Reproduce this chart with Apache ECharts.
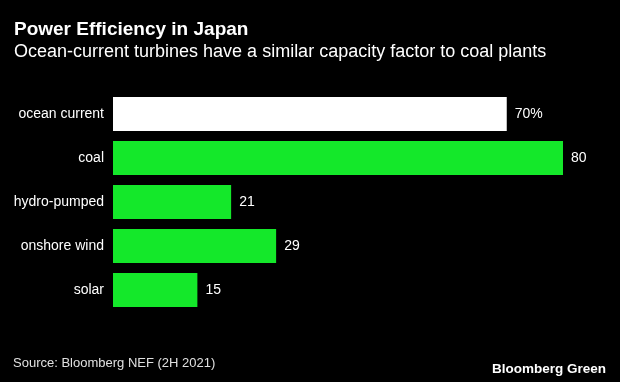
<!DOCTYPE html>
<html>
<head>
<meta charset="utf-8">
<script src="https://cdn.jsdelivr.net/npm/echarts@6/dist/echarts.min.js"></script>
<style>
html,body{margin:0;padding:0;background:#000;}
#chart{width:620px;height:382px;}
</style>
</head>
<body>
<div id="chart"></div>
<script>
var categories = ['ocean current', 'coal', 'hydro-pumped', 'onshore wind', 'solar'];
var values = [70, 80, 21, 29, 15];
var valueLabels = ['70%', '80', '21', '29', '15'];
var barColors = ['#ffffff', '#14e82a', '#14e82a', '#14e82a', '#14e82a'];

var FONT = '"Liberation Sans", Arial, sans-serif';
var chart = echarts.init(document.getElementById('chart'), null, {renderer: 'canvas'});
chart.setOption({
  backgroundColor: '#000',
  animation: false,
  title: [
    {text: 'Power Efficiency in Japan', left: 14, top: 20, padding: 0,
     textStyle: {color: '#fff', fontFamily: FONT, fontWeight: 'bold', fontSize: 19}},
    {text: 'Ocean-current turbines have a similar capacity factor to coal plants', left: 14, top: 43, padding: 0,
     textStyle: {color: '#fff', fontFamily: FONT, fontWeight: 'normal', fontSize: 18}},
    {text: 'Source: Bloomberg NEF (2H 2021)', left: 13, top: 357, padding: 0,
     textStyle: {color: '#e0e0e0', fontFamily: FONT, fontWeight: 'normal', fontSize: 13}},
    {text: 'Bloomberg Green', right: 14, top: 362, padding: 0,
     textStyle: {color: '#fff', fontFamily: FONT, fontWeight: 'bold', fontSize: 13.5}}
  ],
  grid: {left: 113, right: 57, top: 92, bottom: 70, containLabel: false},
  xAxis: {
    type: 'value', min: 0, max: 80, show: false
  },
  yAxis: {
    type: 'category', data: categories, inverse: true,
    axisLine: {show: false}, axisTick: {show: false}, splitLine: {show: false},
    axisLabel: {color: '#fff', fontFamily: FONT, fontSize: 14, margin: 9}
  },
  series: [{
    type: 'bar',
    barWidth: 34,
    data: values.map(function (v, i) {
      return {value: v, itemStyle: {color: barColors[i]}};
    }),
    label: {
      show: true, position: 'right', distance: 8,
      color: '#fff', fontFamily: FONT, fontSize: 14,
      formatter: function (p) { return valueLabels[p.dataIndex]; }
    }
  }]
});
</script>
</body>
</html>
